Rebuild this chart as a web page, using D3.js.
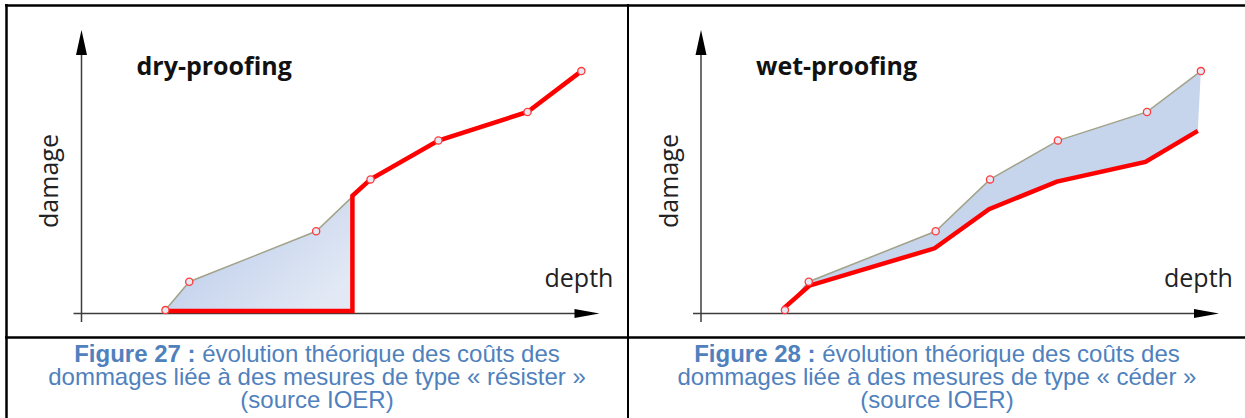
<!DOCTYPE html>
<html>
<head>
<meta charset="utf-8">
<script src="https://cdn.jsdelivr.net/npm/d3@7"></script>
<style>
  html, body { margin: 0; padding: 0; background: #fff; }
  svg { display: block; }
</style>
</head>
<body>
<script>
  // damage curve without any measure (grey line with circles), same in both figures
  const depth  = [16.2, 20.8, 45.3, 55.8, 68.9, 86.1, 96.5];
  const damage = [1.2, 11.2, 29.0, 47.3, 61.0, 71.1, 85.5];

  // red curves: with dry-proofing / wet-proofing
  const dryDepth  = [16.2, 52.3, 52.3, 55.8, 68.9, 86.1, 96.5];
  const dryDamage = [0.9, 0.9, 41.5, 47.3, 61.0, 71.1, 85.5];
  const wetDepth  = [16.0, 20.9, 45.1, 55.6, 68.7, 85.8, 95.9];
  const wetDamage = [1.9, 9.8, 23.0, 36.8, 46.5, 53.5, 64.4];

  const titles = ['dry-proofing', 'wet-proofing'];
  const figNumbers = ['Figure 27 :', 'Figure 28 :'];
  const captionLine1 = ' évolution théorique des coûts des';
  const captionLine2 = ['dommages liée à des mesures de type « résister »',
                        'dommages liée à des mesures de type « céder »'];
  const captionLine3 = '(source IOER)';

  const w = 1245;
  const h = 418;
  const labelFont = "'Open Sans', 'DejaVu Sans', sans-serif";
  const captionFont = "'Liberation Sans', Arial, sans-serif";
  const captionColor = '#4f81bd';

  const svg = d3.select('body')
    .append('svg')
    .attr('width', w)
    .attr('height', h);

  const grad = svg.append('defs')
    .append('linearGradient')
    .attr('id', 'dryFill')
    .attr('x1', '0%').attr('y1', '0%')
    .attr('x2', '100%').attr('y2', '70%');
  grad.append('stop').attr('offset', '0%').attr('stop-color', '#b2c5e7');
  grad.append('stop').attr('offset', '100%').attr('stop-color', '#e2e9f5');

  const curve = depth.map(function(d, i) { return [d, damage[i]]; });
  const dry = dryDepth.map(function(d, i) { return [d, dryDamage[i]]; });
  const wet = wetDepth.map(function(d, i) { return [d, wetDamage[i]]; });

  const panels = [
    { ox: 81.5, red: dry, kind: 'dry' },
    { ox: 701, red: wet, kind: 'wet' }
  ];

  panels.forEach(function(p, k) {
    const x = d3.scaleLinear().domain([0, 100]).range([p.ox, p.ox + 518]);
    const y = d3.scaleLinear().domain([0, 100]).range([313.5, 30]);
    const g = svg.append('g');

    const line = d3.line()
      .x(function(d) { return x(d[0]); })
      .y(function(d) { return y(d[1]); });

    // shaded area = damage avoided by the measure
    let poly;
    if (p.kind === 'dry') {
      poly = curve.filter(function(d) { return d[0] < p.red[1][0]; })
        .concat(p.red.slice(0, 3).reverse());
      g.append('path')
        .attr('d', line(poly) + 'Z')
        .attr('fill', 'url(#dryFill)');
    } else {
      poly = curve.concat(p.red.slice().reverse());
      g.append('path')
        .attr('d', line(poly) + 'Z')
        .attr('fill', '#c6d5ec');
    }

    // axes with arrow heads
    g.append('line')
      .attr('x1', x(0) - 8).attr('x2', x(100) - 20)
      .attr('y1', y(0)).attr('y2', y(0))
      .attr('stroke', '#3c3c3c').attr('stroke-width', 1.5);
    g.append('line')
      .attr('x1', x(0)).attr('x2', x(0))
      .attr('y1', y(0) + 8.5).attr('y2', y(100) + 20)
      .attr('stroke', '#3c3c3c').attr('stroke-width', 1.5);
    g.append('path')
      .attr('d', 'M' + x(100) + ',' + y(0) + 'L' + (x(100) - 25) + ',' + (y(0) - 4.5) +
                 'L' + (x(100) - 25) + ',' + (y(0) + 4.5) + 'Z')
      .attr('fill', '#000');
    g.append('path')
      .attr('d', 'M' + x(0) + ',' + y(100) + 'L' + (x(0) - 5.5) + ',' + (y(100) + 25) +
                 'L' + (x(0) + 5.5) + ',' + (y(100) + 25) + 'Z')
      .attr('fill', '#000');

    // grey curve, red curve, then the circles on top
    g.append('path')
      .attr('d', line(curve))
      .attr('fill', 'none')
      .attr('stroke', '#a3a28a')
      .attr('stroke-width', 1.5);

    g.append('path')
      .attr('d', line(p.red))
      .attr('fill', 'none')
      .attr('stroke', '#ff0000')
      .attr('stroke-width', 4.5)
      .attr('stroke-linejoin', 'miter');

    g.selectAll('circle')
      .data(curve)
      .enter()
      .append('circle')
      .attr('cx', function(d) { return x(d[0]); })
      .attr('cy', function(d) { return y(d[1]); })
      .attr('r', 3.6)
      .attr('fill', '#e4e9f4')
      .attr('stroke', '#ff3b3b')
      .attr('stroke-width', 1.3);

    // labels
    g.append('text')
      .attr('x', p.ox + 55)
      .attr('y', 75)
      .attr('font-family', labelFont)
      .attr('font-weight', 700)
      .attr('font-size', '25px')
      .attr('fill', '#111')
      .text(titles[k]);

    g.append('text')
      .attr('x', p.ox + 463)
      .attr('y', 287)
      .attr('font-family', labelFont)
      .attr('font-size', '25px')
      .attr('fill', '#222')
      .text('depth');

    g.append('text')
      .attr('transform', 'translate(' + (p.ox - 23.5) + ',181) rotate(-90)')
      .attr('text-anchor', 'middle')
      .attr('font-family', labelFont)
      .attr('font-size', '25px')
      .attr('fill', '#222')
      .text('damage');

    // caption
    const cx = k === 0 ? 317 : 937;
    const cap = svg.append('text')
      .attr('x', cx)
      .attr('y', 362)
      .attr('text-anchor', 'middle')
      .attr('font-family', captionFont)
      .attr('font-size', '24px')
      .attr('fill', captionColor);
    cap.append('tspan').attr('font-weight', 700).text(figNumbers[k]);
    cap.append('tspan').text(captionLine1);

    svg.append('text')
      .attr('x', cx)
      .attr('y', 385)
      .attr('text-anchor', 'middle')
      .attr('font-family', captionFont)
      .attr('font-size', '24px')
      .attr('fill', captionColor)
      .text(captionLine2[k]);

    svg.append('text')
      .attr('x', cx)
      .attr('y', 408)
      .attr('text-anchor', 'middle')
      .attr('font-family', captionFont)
      .attr('font-size', '24px')
      .attr('fill', captionColor)
      .text(captionLine3);
  });

  // table borders
  const border = svg.append('g')
    .attr('stroke', '#000')
    .attr('stroke-width', 2.5);
  border.append('line').attr('x1', 5).attr('x2', w).attr('y1', 5.5).attr('y2', 5.5);
  border.append('line').attr('x1', 5).attr('x2', w).attr('y1', 337.5).attr('y2', 337.5);
  border.append('line').attr('x1', 6.5).attr('x2', 6.5).attr('y1', 4).attr('y2', h);
  border.append('line').attr('x1', 628).attr('x2', 628).attr('y1', 4).attr('y2', h)
    .attr('stroke-width', 2);
</script>
</body>
</html>
